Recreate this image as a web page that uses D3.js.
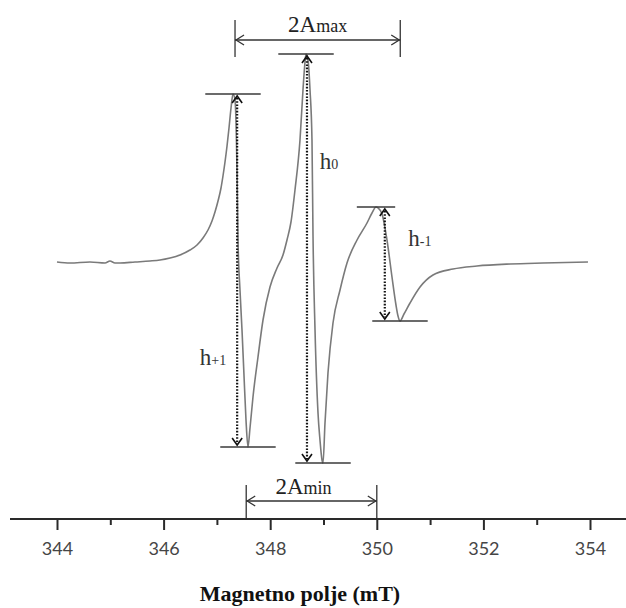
<!DOCTYPE html>
<html>
<head>
<meta charset="utf-8">
<script src="https://cdn.jsdelivr.net/npm/d3@7/dist/d3.min.js"></script>
<style>
  html, body { margin: 0; padding: 0; background: #fff; }
  svg { display: block; }
</style>
</head>
<body>
<svg id="chart" width="626" height="608"></svg>
<script>
// EPR spectrum: magnetic field (mT) and first-derivative signal (arb. units)
const field = [
  344.000, 344.244, 344.619, 344.901, 344.994, 345.088, 345.182, 345.463, 345.745, 345.932,
  346.120, 346.308, 346.495, 346.627, 346.739, 346.833, 346.908, 346.964, 347.021, 347.077,
  347.114, 347.152, 347.190, 347.227, 347.265, 347.302, 347.340, 347.377, 347.396, 347.433,
  347.471, 347.508, 347.546, 347.583, 347.621, 347.677, 347.771, 347.865, 347.996, 348.128,
  348.240, 348.315, 348.390, 348.465, 348.559, 348.615, 348.653, 348.672, 348.709, 348.747,
  348.784, 348.803, 348.841, 348.897, 348.934, 348.972, 348.991, 349.028, 349.084, 349.178,
  349.310, 349.441, 349.629, 349.816, 349.910, 349.985, 350.023, 350.098, 350.191, 350.285,
  350.360, 350.398, 350.435, 350.510, 350.623, 350.811, 351.054, 351.430, 351.880, 352.499,
  353.118, 353.962
];
const signal = [
  0, -0.5, 0, -0.5, 0.5, -0.5, -0.5, 0, 0.5, 1,
  2, 3.5, 6, 8.5, 12, 16, 20.5, 25, 30.5, 37,
  43, 50, 58, 67, 77, 84, 81, 46, 11, -14,
  -34, -56.5, -79, -92.5, -83, -67.5, -47.5, -29, -12.5, -3,
  3.5, 11, 20, 36, 61, 86, 100, 104, 101, 86,
  61, 13.5, -34, -75.5, -89, -99, -100.5, -80.5, -55.5, -30.5,
  -14, -0.5, 11, 19.5, 24.5, 27.5, 27, 24, 11, -7.5,
  -21.5, -27, -29.5, -26, -20.5, -12.5, -6.5, -3.5, -2, -1,
  -0.5, 0
];

// Axis ticks
const majorTicks = [344, 346, 348, 350, 352, 354];
const minorTicks = [345, 347, 349, 351, 353];
const axisTitle = "Magnetno polje (mT)";

// Hyperfine line heights: arrow field, maximum and minimum of each line
const lineNames = ["+1", "0", "-1"];
const arrowField = [347.38, 348.69, 350.15];
const lineMax = [84, 104, 27.5];
const lineMin = [-92.5, -100.5, -29.5];

// Splittings between extrema
const aMaxFrom = 347.34, aMaxTo = 350.44;
const aMinFrom = 347.55, aMinTo = 350.0;

const svg = d3.select("#chart");
const x = d3.scaleLinear().domain([344, 354]).range([57, 590]);
const y = d3.scaleLinear().domain([-100, 100]).range([462, 62]);
const axisY = 519;

const ink = "#2a2a2a";
const serif = "'Liberation Serif', 'Times New Roman', serif";

// ---- spectrum trace ----
const line = d3.line()
  .x((d, i) => x(field[i]))
  .y((d, i) => y(signal[i]))
  .curve(d3.curveMonotoneX);

svg.append("path")
  .datum(signal)
  .attr("d", line)
  .attr("fill", "none")
  .attr("stroke", "#7a7a7a")
  .attr("stroke-width", 1.6)
  .attr("stroke-linejoin", "round");

// ---- level bars at maxima and minima ----
const barHalf = [[0.52, 0.52], [0.52, 0.52], [0.36, 0.52]];
const bars = svg.append("g").attr("stroke", "#3a3a3a").attr("stroke-width", 1.5);
lineNames.forEach((n, i) => {
  const fMax = field[signal.indexOf(lineMax[i])];
  const fMin = field[signal.indexOf(lineMin[i])];
  bars.append("line")
    .attr("x1", x(fMax - barHalf[i][0])).attr("x2", x(fMax + barHalf[i][0]))
    .attr("y1", y(lineMax[i])).attr("y2", y(lineMax[i]));
  bars.append("line")
    .attr("x1", x(fMin - barHalf[i][1])).attr("x2", x(fMin + barHalf[i][1]))
    .attr("y1", y(lineMin[i])).attr("y2", y(lineMin[i]));
});

// ---- dotted double arrows for h ----
function chevron(g, cx, cy, dir) {
  // dir = -1 points up, +1 points down
  g.append("path")
    .attr("d", `M${cx - 5},${cy - dir * 7} L${cx},${cy} L${cx + 5},${cy - dir * 7}`)
    .attr("fill", "none").attr("stroke", "#111").attr("stroke-width", 1.6);
}
const arrows = svg.append("g");
lineNames.forEach((n, i) => {
  const ax = x(arrowField[i]);
  const top = y(lineMax[i]) + 2, bot = y(lineMin[i]) - 2;
  arrows.append("line")
    .attr("x1", ax).attr("x2", ax).attr("y1", top + 2).attr("y2", bot - 2)
    .attr("stroke", "#111").attr("stroke-width", 2.2)
    .attr("stroke-dasharray", "1.6,1.6");
  chevron(arrows, ax, top, -1);
  chevron(arrows, ax, bot, 1);
});

// ---- h labels ----
const labelPos = [[346.68, -51.5], [348.93, 46.5], [350.59, 8]];
lineNames.forEach((n, i) => {
  const t = svg.append("text")
    .attr("x", x(labelPos[i][0])).attr("y", y(labelPos[i][1]))
    .attr("font-family", serif).attr("fill", "#333");
  t.append("tspan").attr("font-size", 23).text("h");
  t.append("tspan").attr("font-size", 14).text(n);
});

// ---- splitting brackets ----
function bracket(f1, f2, yLine, yTop, yBot, main, sub, textY, shift) {
  const g = svg.append("g").attr("stroke", "#333").attr("stroke-width", 1.3).attr("fill", "none");
  const x1 = x(f1), x2 = x(f2);
  g.append("line").attr("x1", x1).attr("x2", x2).attr("y1", yLine).attr("y2", yLine);
  g.append("line").attr("x1", x1).attr("x2", x1).attr("y1", yTop).attr("y2", yBot);
  g.append("line").attr("x1", x2).attr("x2", x2).attr("y1", yTop).attr("y2", yBot);
  g.append("path").attr("d", `M${x1 + 9},${yLine - 5} L${x1 + 1},${yLine} L${x1 + 9},${yLine + 5}`);
  g.append("path").attr("d", `M${x2 - 9},${yLine - 5} L${x2 - 1},${yLine} L${x2 - 9},${yLine + 5}`);
  const t = svg.append("text")
    .attr("x", (x1 + x2) / 2 + shift).attr("y", textY)
    .attr("text-anchor", "middle")
    .attr("font-family", serif).attr("fill", "#222");
  t.append("tspan").attr("font-size", 23).text(main);
  t.append("tspan").attr("font-size", 18).text(sub);
}
bracket(aMaxFrom, aMaxTo, 40, 20, 57, "2A", "max", 32, 0);
bracket(aMinFrom, aMinTo, 501, 485, axisY, "2A", "min", 494, -8);

// ---- field axis ----
const axisG = svg.append("g").attr("transform", `translate(0,${axisY})`);
axisG.append("line")
  .attr("x1", x(x.invert(10))).attr("x2", x(x.invert(626)))
  .attr("stroke", ink).attr("stroke-width", 2.2);

const major = axisG.append("g")
  .call(d3.axisBottom(x).tickValues(majorTicks).tickSize(11).tickFormat(d3.format("d")));
major.select(".domain").remove();
major.selectAll(".tick line").attr("stroke", ink).attr("stroke-width", 2);
major.selectAll(".tick text")
  .attr("y", 23)
  .attr("font-family", "Lato, 'Open Sans', sans-serif")
  .attr("font-size", 18)
  .attr("fill", "#454545");

const minor = axisG.append("g")
  .call(d3.axisBottom(x).tickValues(minorTicks).tickSize(6).tickFormat(""));
minor.select(".domain").remove();
minor.selectAll(".tick line").attr("stroke", ink).attr("stroke-width", 2);

svg.append("text")
  .attr("x", 300).attr("y", 601)
  .attr("text-anchor", "middle")
  .attr("font-family", serif)
  .attr("font-weight", "bold")
  .attr("font-size", 22)
  .attr("fill", "#111")
  .text(axisTitle);
</script>
</body>
</html>
